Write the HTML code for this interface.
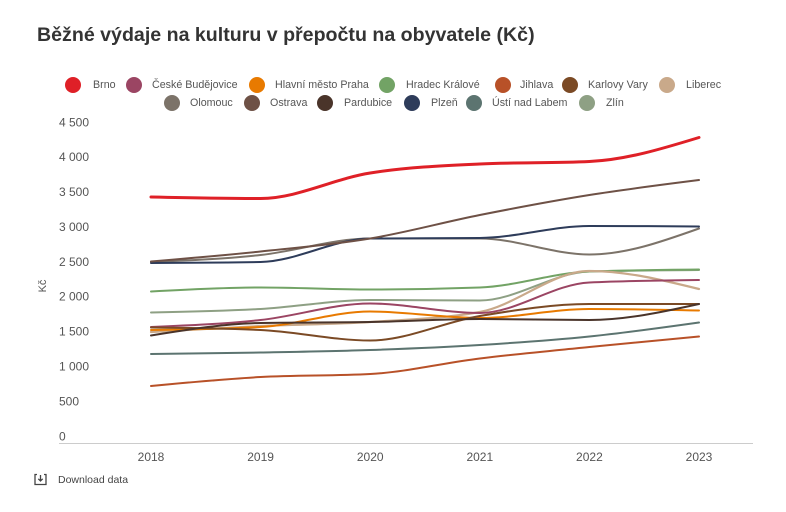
<!DOCTYPE html>
<html>
<head>
<meta charset="utf-8">
<style>
  html, body { margin:0; padding:0; background:#fff; }
  body { width:786px; height:512px; position:relative; overflow:hidden; font-family:"Liberation Sans", "DejaVu Sans", sans-serif; }
  .title { position:absolute; left:37px; top:23px; font-size:19.6px; font-weight:bold; color:#333; white-space:nowrap; line-height:24px; }
  .dot { position:absolute; width:16px; height:16px; border-radius:50%; }
  .lt { position:absolute; font-size:10.7px; color:#555; white-space:nowrap; line-height:14px; }
  svg { position:absolute; left:0; top:0; }
</style>
</head>
<body>
<div class="title">Běžné výdaje na kulturu v přepočtu na obyvatele (Kč)</div>

<!-- legend row 1 -->
<div class="dot" style="left:65px;top:77px;background:#df2027"></div><div class="lt" style="left:93px;top:78px">Brno</div>
<div class="dot" style="left:126px;top:77px;background:#9b4563"></div><div class="lt" style="left:152px;top:78px">České Budějovice</div>
<div class="dot" style="left:249px;top:77px;background:#e87a00"></div><div class="lt" style="left:275px;top:78px">Hlavní město Praha</div>
<div class="dot" style="left:379px;top:77px;background:#72a365"></div><div class="lt" style="left:406px;top:78px">Hradec Králové</div>
<div class="dot" style="left:495px;top:77px;background:#b85128"></div><div class="lt" style="left:520px;top:78px">Jihlava</div>
<div class="dot" style="left:562px;top:77px;background:#7b4a25"></div><div class="lt" style="left:588px;top:78px">Karlovy Vary</div>
<div class="dot" style="left:659px;top:77px;background:#c9a98a"></div><div class="lt" style="left:686px;top:78px">Liberec</div>
<!-- legend row 2 -->
<div class="dot" style="left:164px;top:95px;background:#7c7369"></div><div class="lt" style="left:190px;top:96px">Olomouc</div>
<div class="dot" style="left:244px;top:95px;background:#6e5146"></div><div class="lt" style="left:270px;top:96px">Ostrava</div>
<div class="dot" style="left:317px;top:95px;background:#4a342a"></div><div class="lt" style="left:344px;top:96px">Pardubice</div>
<div class="dot" style="left:404px;top:95px;background:#2e3c5a"></div><div class="lt" style="left:431px;top:96px">Plzeň</div>
<div class="dot" style="left:466px;top:95px;background:#5c7470"></div><div class="lt" style="left:492px;top:96px">Ústí nad Labem</div>
<div class="dot" style="left:579px;top:95px;background:#8ea084"></div><div class="lt" style="left:606px;top:96px">Zlín</div>

<svg id="chart" width="786" height="512" xmlns="http://www.w3.org/2000/svg" font-family="Liberation Sans, DejaVu Sans, sans-serif">
  <g font-size="12" fill="#555">
    <text x="59" y="126.3">4 500</text>
    <text x="59" y="161.2">4 000</text>
    <text x="59" y="196.1">3 500</text>
    <text x="59" y="231.0">3 000</text>
    <text x="59" y="265.9">2 500</text>
    <text x="59" y="300.7">2 000</text>
    <text x="59" y="335.6">1 500</text>
    <text x="59" y="370.5">1 000</text>
    <text x="59" y="405.4">500</text>
    <text x="59" y="440.3">0</text>
  </g>
  <text x="0" y="0" font-size="11" fill="#555" text-anchor="middle" transform="translate(46,286) rotate(-90)">Kč</text>
  <line x1="59" y1="443.5" x2="753" y2="443.5" stroke="#cccccc" stroke-width="1"/>
  <g font-size="12" fill="#555" text-anchor="middle">
    <text x="151" y="461">2018</text>
    <text x="260.6" y="461">2019</text>
    <text x="370.2" y="461">2020</text>
    <text x="479.8" y="461">2021</text>
    <text x="589.4" y="461">2022</text>
    <text x="699" y="461">2023</text>
  </g>
  <g id="lines" fill="none" stroke-linecap="round" stroke-linejoin="round"></g>
  <!-- download icon -->
  <g stroke="#444" stroke-width="1.3" fill="none">
    <path d="M37 474.5 H35 V484.5 H46 V474.5 H44"/>
    <path d="M40.5 475 V481 M38.3 478.8 L40.5 481 L42.7 478.8"/>
  </g>
  <text x="58" y="483" font-size="10.5" fill="#444">Download data</text>
</svg>

<script>
(function(){
  var xs=[151,260.6,370.2,479.8,589.4,699];
  var series=[
    ["#5c7470",2,[354,352.5,350,345,336.5,322.5]],
    ["#b85128",2,[386,377,374,358.5,347,336.5]],
    ["#8ea084",2,[312.5,309,300,300.5,271.5,270]],
    ["#72a365",2,[291.5,287.5,289.5,287.5,271.5,269.5]],
    ["#c9a98a",2.2,[332,326,322,312,271,289]],
    ["#9b4563",2,[327,320,303.5,313,282.5,280]],
    ["#e87a00",2,[330,327,311.5,318,309,310.5]],
    ["#7b4a25",2,[327.5,330,340.5,316,304,304]],
    ["#4a342a",2,[335.5,323,322,319,320,304]],
    ["#7c7369",2,[262,255,238.5,238.5,254.5,228.5]],
    ["#2e3c5a",2,[263,262,238.5,238,226,226.5]],
    ["#6e5146",2,[261.5,251.5,238.5,215,195,180]],
    ["#df2027",3,[197,198.5,173,164,161.5,137.5]]
  ];
  function sign(v){return v<0?-1:1;}
  function path(x,y){
    var n=x.length,m=new Array(n),i;
    for(i=1;i<n-1;i++){
      var h0=x[i]-x[i-1],h1=x[i+1]-x[i];
      var s0=(y[i]-y[i-1])/h0,s1=(y[i+1]-y[i])/h1;
      var p=(s0*h1+s1*h0)/(h0+h1);
      m[i]=(sign(s0)+sign(s1))*Math.min(Math.abs(s0),Math.abs(s1),0.5*Math.abs(p))||0;
    }
    var hA=x[1]-x[0];m[0]=(3*(y[1]-y[0])/hA-m[1])/2;
    var hB=x[n-1]-x[n-2];m[n-1]=(3*(y[n-1]-y[n-2])/hB-m[n-2])/2;
    var d="M"+x[0]+","+y[0];
    for(i=0;i<n-1;i++){
      var dx=(x[i+1]-x[i])/3;
      d+=" C"+(x[i]+dx).toFixed(2)+","+(y[i]+dx*m[i]).toFixed(2)+" "+(x[i+1]-dx).toFixed(2)+","+(y[i+1]-dx*m[i+1]).toFixed(2)+" "+x[i+1]+","+y[i+1];
    }
    return d;
  }
  var g=document.getElementById("lines");
  var NS="http://www.w3.org/2000/svg";
  series.forEach(function(s){
    var p=document.createElementNS(NS,"path");
    p.setAttribute("d",path(xs,s[2]));
    p.setAttribute("stroke",s[0]);
    p.setAttribute("stroke-width",s[1]);
    g.appendChild(p);
  });
})();
</script>
</body>
</html>
